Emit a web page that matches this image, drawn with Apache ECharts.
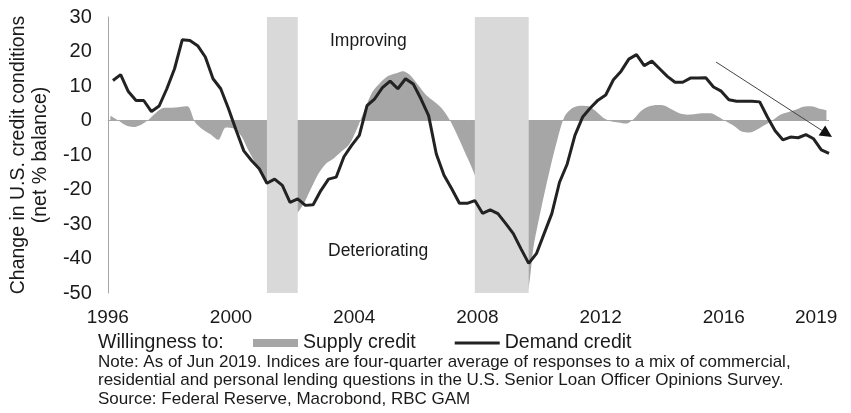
<!DOCTYPE html>
<html>
<head>
<meta charset="utf-8">
<script src="https://cdn.jsdelivr.net/npm/echarts@6/dist/echarts.min.js"></script>
<style>
  html, body { margin: 0; padding: 0; background: #fff; }
  #chart { width: 851px; height: 413px; }
</style>
</head>
<body>
<div id="chart"></div>
<script>
// quarterly survey readings, 1996Q1 .. 2019Q2
const startYear = 1996
const supplyCredit = [
  1.4, 0.1, -1.4, -1.9, -1.2, 0.3, 2.4, 3.7, 3.7, 3.9, 4.1, -0.5, -2.6, -4, -5.6, -2,
  -2.3, -4.5, -9, -13, -17, -22, -25, -26, -27, -24.5, -20, -15.5, -12.5, -11, -9, -7,
  -2.5, 3, 8.2, 10.8, 12.8, 13.6, 14.3, 13, 10.2, 7.4, 5.6, 3.6, 0.4, -4, -9, -14,
  -20, -28, -36, -42, -46, -48, -50, -36, -25, -15, -6, 1.2, 3.6, 4.3, 4.2, 2.8,
  0.8, -0.2, -0.6, -0.9, 0.5, 2.9, 4.1, 4.5, 4.3, 3.1, 2, 1.7, 1.9, 2.1, 2.1, 1,
  -0.3, -1.6, -3.2, -3.5, -2.6, -1.3, 0.1, 1.7, 2.4, 3.1, 4, 4.1, 3.5, 3
]
const demandCredit = [
  11.6, 13.3, 8.4, 5.8, 5.8, 2.6, 4.2, 9.2, 15, 23.4, 23.2, 21.7, 18.4, 12.1, 9.2, 3.5,
  -2.8, -8.8, -11.6, -14, -18.2, -17, -18.8, -23.7, -22.7, -24.6, -24.4, -20.3, -17, -16.4, -10.5, -7.2,
  -4.3, 4.3, 6.3, 9.5, 11.4, 9.2, 12.1, 10.6, 6.3, 1.4, -9.7, -15.9, -19.8, -24, -24, -23.2,
  -26.9, -25.9, -27, -29.8, -32.8, -37.2, -41.4, -38.6, -32.8, -27, -17.9, -12.6, -4.3, 1, 3.6, 5.9,
  7.4, 11.8, 14.3, 17.8, 19.1, 15.9, 17.2, 15, 12.8, 11.1, 11.1, 12.3, 12.3, 12.4, 9.7, 8.5,
  6, 5.6, 5.6, 5.6, 5.4, 1, -3, -5.6, -4.8, -5, -4.1, -5.3, -8.5, -9.5
]
// month (within quarter) at which each series is plotted
const supplyMonthInQuarter = 1
const demandMonthInQuarter = 2
// recessions, months since Jan 1996
const recessionStart = [62, 143]
const recessionEnd = [74, 164]
const tickYears = [1996, 2000, 2004, 2008, 2012, 2016, 2019]
const lastMonth = 281

const font = '"Liberation Sans", Arial, sans-serif'
const ink = '#1a1a1a'

const toMonth = (q, m) => q * 3 + m
const supplyData = supplyCredit.map((v, q) => [toMonth(q, supplyMonthInQuarter), v])
const demandData = demandCredit.map((v, q) => [toMonth(q, demandMonthInQuarter), v])
const tickMonths = tickYears.map(y => (y - startYear) * 12)

// arrow annotation (pixels)
const arrowFrom = [716, 62], arrowTo = [832, 137]
const dx = arrowTo[0] - arrowFrom[0], dy = arrowTo[1] - arrowFrom[1]
const len = Math.hypot(dx, dy), ux = dx / len, uy = dy / len
const headLen = 12, headHalf = 6
const bx = arrowTo[0] - ux * headLen, by = arrowTo[1] - uy * headLen

const chart = echarts.init(document.getElementById('chart'))
chart.setOption({
  animation: false,
  textStyle: { fontFamily: font },
  grid: { left: 102, right: 22, top: 17, bottom: 120 },
  xAxis: {
    type: 'value', min: 0, max: lastMonth,
    axisLine: { show: false, onZero: false },
    axisTick: { show: false },
    splitLine: { show: false },
    axisLabel: {
      customValues: tickMonths,
      formatter: v => String(startYear + Math.round(v / 12)),
      fontSize: 19, color: ink, margin: 15, fontFamily: font
    }
  },
  yAxis: {
    type: 'value', min: -50, max: 30, interval: 10,
    axisLine: { show: true, lineStyle: { color: '#a6a6a6', width: 1 } },
    axisTick: { show: false },
    splitLine: { show: false },
    axisLabel: { fontSize: 20, color: ink, margin: 16, fontFamily: font },
    name: 'Change in U.S. credit conditions\n(net % balance)',
    nameLocation: 'middle',
    nameGap: 48,
    nameTextStyle: { fontSize: 19.5, lineHeight: 22, color: ink, fontFamily: font }
  },
  legend: {
    left: 253, top: 333, padding: 0,
    itemWidth: 45, itemHeight: 8, itemGap: 39,
    textStyle: { fontSize: 19.5, color: ink, fontFamily: font },
    data: [
      { name: 'Supply credit', icon: 'rect' },
      { name: 'Demand credit', icon: 'path://M0,0L45,0L45,3L0,3Z', symbolKeepAspect: true }
    ]
  },
  series: [
    {
      name: 'Supply credit', type: 'line', data: supplyData,
      symbol: 'none', smooth: 0.3, z: 1,
      lineStyle: { width: 0 },
      itemStyle: { color: '#a6a6a6' },
      areaStyle: { color: '#a6a6a6', opacity: 1 },
      markLine: {
        silent: true, z: 1.5, symbol: 'none', label: { show: false },
        lineStyle: { color: '#a6a6a6', width: 1, type: 'solid' },
        data: [{ yAxis: 0 }]
      },
      markArea: {
        silent: true, z: 2,
        itemStyle: { color: '#d9d9d9' },
        data: recessionStart.map((s, i) => [{ xAxis: s }, { xAxis: recessionEnd[i] }])
      }
    },
    {
      name: 'Demand credit', type: 'line', data: demandData,
      symbol: 'none', z: 3,
      lineStyle: { width: 3, color: '#222' },
      itemStyle: { color: '#222' }
    }
  ],
  graphic: [
    { type: 'text', x: 330, y: 41.5, style: { text: 'Improving', fontSize: 17.5, fontFamily: font, fill: ink, verticalAlign: 'middle' } },
    { type: 'text', x: 328, y: 251, style: { text: 'Deteriorating', fontSize: 17.5, fontFamily: font, fill: ink, verticalAlign: 'middle' } },
    { type: 'line', shape: { x1: arrowFrom[0], y1: arrowFrom[1], x2: bx, y2: by }, style: { stroke: '#444', lineWidth: 1 }, z: 10 },
    { type: 'polygon', shape: { points: [arrowTo, [bx - uy * headHalf, by + ux * headHalf], [bx + uy * headHalf, by - ux * headHalf]] }, style: { fill: '#111' }, z: 10 },
    { type: 'text', x: 98, y: 343, style: { text: 'Willingness to:', fontSize: 19.5, fontFamily: font, fill: ink, verticalAlign: 'middle' } },
    {
      type: 'text', x: 98, y: 353,
      style: {
        text: 'Note: As of Jun 2019. Indices are four-quarter average of responses to a mix of commercial,\n' +
          'residential and personal lending questions in the U.S. Senior Loan Officer Opinions Survey.\n' +
          'Source: Federal Reserve, Macrobond, RBC GAM',
        fontSize: 17, lineHeight: 18.5, fontFamily: font, fill: ink, verticalAlign: 'top'
      }
    }
  ]
})
</script>
</body>
</html>
